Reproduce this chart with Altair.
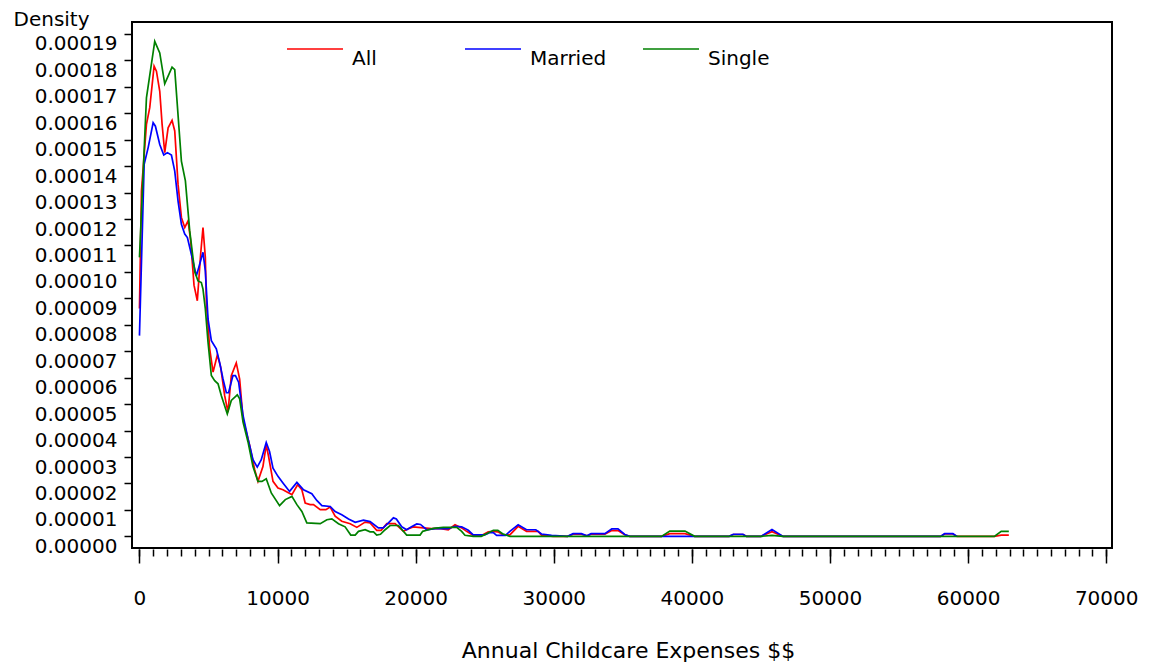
import altair as alt
import pandas as pd

series_names = ["All", "Married", "Single"]
series_colors = ["#ff0000", "#0000ff", "#008000"]

# Annual childcare expenses ($) and estimated density (in units of 1e-5)
x_all = [0, 145, 506, 745, 1060, 1230, 1470, 1640, 1830, 2075, 2360, 2555, 2795, 3037, 3280, 3520,
         3710, 3950, 4190, 4430, 4600, 4770, 4845, 5085, 5330, 5640, 5880, 6170, 6410, 6650, 7010,
         7255, 7500, 7980, 8340, 8580, 8940, 9180, 9350, 9670, 10030, 10390, 10750, 11040, 11450,
         11760, 12000, 12360, 12600, 13090, 13500, 13810, 14170, 14650, 15260, 15740, 16340, 16700,
         17180, 17500, 17910, 18510, 19110, 19470, 19830, 20560, 21160, 21700, 22360, 22850, 23330,
         23690, 24170, 24800, 25260, 25620, 25950, 26340, 26820, 27420, 28030, 28870, 29110, 29950,
         31000, 31400, 32000, 32400, 32700, 33700, 34200, 34650, 35140, 35500, 37800, 38400, 39500,
         40200, 42700, 43000, 43700, 43950, 45000, 45800, 46600, 58000, 58300, 58900, 59200, 61900,
         62400, 62950]
y_all = [8.62, 13.06, 15.58, 16.21, 17.78, 17.59, 16.83, 15.58, 14.51, 15.45, 15.73, 15.33, 13.31,
         12.06, 11.68, 11.93, 11.17, 9.5, 8.91, 10.67, 11.68, 10.55, 8.85, 7.09, 6.21, 6.86, 6.4, 5.32,
         4.7, 6.08, 6.56, 5.95, 4.44, 3.44, 2.53, 2.08, 2.64, 3.46, 3.02, 2.08, 1.83, 1.76, 1.66, 1.58,
         1.95, 1.76, 1.26, 1.2, 1.2, 1.01, 1.01, 1.11, 0.76, 0.57, 0.48, 0.34, 0.54, 0.51, 0.23, 0.23,
         0.48, 0.48, 0.19, 0.29, 0.36, 0.32, 0.29, 0.3, 0.25, 0.44, 0.32, 0.19, 0.04, 0.04, 0.17, 0.19,
         0.17, 0.06, 0.06, 0.38, 0.19, 0.19, 0.04, 0, 0, 0.08, 0.08, 0.02, 0.08, 0.08, 0.22, 0.22,
         0.06, 0, 0, 0.1, 0.1, 0, 0, 0.07, 0.07, 0, 0, 0.18, 0, 0, 0.09, 0.09, 0, 0, 0.05, 0.05]

x_married = [0, 340, 630, 990, 1155, 1470, 1760, 2025, 2315, 2555, 2795, 3037, 3280, 3470, 3760,
             4120, 4360, 4600, 4770, 4965, 5205, 5565, 5805, 6050, 6290, 6450, 6770, 6950, 7180,
             7500, 7860, 8220, 8530, 8820, 9180, 9420, 9670, 10030, 10390, 10870, 11400, 11880,
             12480, 12840, 13210, 13810, 14170, 14650, 15140, 15620, 16220, 16700, 17300, 17650,
             18030, 18390, 18600, 18990, 19350, 19700, 20080, 20350, 20800, 21520, 22360, 22850,
             23330, 23810, 24170, 25000, 25380, 25620, 25860, 26500, 26820, 27420, 28030, 28700,
             29110, 29840, 31000, 31400, 32000, 32400, 32700, 33700, 34200, 34650, 35140, 35500,
             42700, 43000, 43700, 43950, 45000, 45800, 46600, 58000, 58300, 58900, 59200]
y_married = [7.59, 14.07, 14.7, 15.64, 15.51, 14.82, 14.42, 14.51, 14.42, 13.81, 12.68, 11.8, 11.43,
             11.3, 10.67, 9.85, 10.29, 10.74, 10.04, 8.22, 7.4, 7.09, 6.58, 5.95, 5.43, 5.43, 6.08,
             6.08, 5.83, 4.57, 3.69, 2.9, 2.62, 2.9, 3.55, 3.21, 2.58, 2.27, 2.02, 1.7, 2.04, 1.76,
             1.61, 1.36, 1.16, 1.13, 0.94, 0.82, 0.66, 0.53, 0.61, 0.56, 0.32, 0.32, 0.51, 0.7, 0.66,
             0.36, 0.25, 0.36, 0.47, 0.45, 0.25, 0.3, 0.29, 0.38, 0.36, 0.23, 0.06, 0.06, 0.15, 0.14,
             0.04, 0.04, 0.19, 0.44, 0.25, 0.25, 0.09, 0.04, 0, 0.1, 0.1, 0.02, 0.1, 0.1, 0.28, 0.28,
             0.07, 0, 0, 0.08, 0.08, 0, 0, 0.26, 0, 0, 0.1, 0.1, 0]

x_single = [0, 506, 1107, 1470, 1830, 2360, 2555, 3037, 3326, 3640, 4000, 4240, 4480, 4600, 4770,
            4965, 5205, 5445, 5690, 5930, 6360, 6650, 7085, 7255, 7500, 7860, 8220, 8580, 8870, 9180,
            9545, 10145, 10560, 11040, 11400, 11760, 12120, 13090, 13570, 13930, 14410, 14890, 15300,
            15620, 15860, 16340, 16700, 16950, 17180, 17450, 17790, 18150, 18750, 19350, 20320, 20510,
            20800, 21280, 22000, 22970, 23330, 23570, 24170, 24750, 25140, 25620, 25950, 26290, 26820,
            37800, 38400, 39500, 40200, 45000, 45800, 46600, 61900, 62400, 62950]
y_single = [10.55, 16.58, 18.72, 18.28, 17.11, 17.74, 17.65, 14.19, 13.44, 11.55, 10.0, 9.66, 9.6,
            9.35, 8.6, 7.34, 6.08, 5.89, 5.77, 5.32, 4.63, 5.14, 5.35, 5.2, 4.32, 3.57, 2.64, 2.08,
            2.08, 2.18, 1.64, 1.16, 1.39, 1.51, 1.2, 0.94, 0.51, 0.48, 0.63, 0.66, 0.48, 0.36, 0.05,
            0.05, 0.19, 0.25, 0.17, 0.17, 0.05, 0.08, 0.25, 0.41, 0.41, 0.05, 0.05, 0.19, 0.23, 0.3,
            0.34, 0.34, 0.19, 0.04, 0, 0, 0.1, 0.23, 0.23, 0.1, 0, 0, 0.2, 0.2, 0, 0, 0.04, 0, 0,
            0.19, 0.19]

x_major_ticks = [0, 10000, 20000, 30000, 40000, 50000, 60000, 70000]
x_minor_ticks = list(range(0, 70001, 1000))
y_ticks = [0.00000, 0.00001, 0.00002, 0.00003, 0.00004, 0.00005, 0.00006, 0.00007, 0.00008,
           0.00009, 0.00010, 0.00011, 0.00012, 0.00013, 0.00014, 0.00015, 0.00016, 0.00017,
           0.00018, 0.00019]

rows = []
for name, xs, ys in [("All", x_all, y_all), ("Married", x_married, y_married),
                     ("Single", x_single, y_single)]:
    assert len(xs) == len(ys), name
    for xv, yv in zip(xs, ys):
        rows.append({"series": name, "expense": xv, "density": yv * 1e-5})
df = pd.DataFrame(rows)

FONT = "DejaVu Sans"

x_scale = alt.Scale(domain=[-540, 70420], nice=False, zero=False)
y_scale = alt.Scale(domain=[-0.0000044, 0.0001945], nice=False, zero=False)

lines = alt.Chart(df).mark_line(strokeWidth=1.7, clip=True).encode(
    x=alt.X("expense:Q", scale=x_scale,
            axis=alt.Axis(orient="bottom", values=x_major_ticks, format="d", tickSize=14, offset=1,
                          tickWidth=1.5, tickColor="black", domain=False, grid=False,
                          labelFont=FONT, labelFontSize=20, labelColor="black", labelPadding=25,
                          labelFlush=False, labelOverlap=False,
                          title="Annual Childcare Expenses $$", titleFont=FONT, titleFontSize=22,
                          titleFontWeight="normal", titleColor="black", titleX=496, titleY=108,
                          titleAlign="center", titleBaseline="alphabetic")),
    y=alt.Y("density:Q", scale=y_scale,
            axis=alt.Axis(orient="left", values=y_ticks, format=".5f", tickSize=8, tickWidth=1.5,
                          tickColor="black", domain=False, grid=False,
                          labelFont=FONT, labelFontSize=20, labelColor="black", labelPadding=7,
                          labelBaseline="top", labelOverlap=False, labelFlush=False,
                          title="Density", titleFont=FONT, titleFontSize=20,
                          titleFontWeight="normal", titleColor="black", titleAngle=0,
                          titleAlign="left", titleBaseline="alphabetic", titleX=-119, titleY=3)),
    color=alt.Color("series:N", scale=alt.Scale(domain=series_names, range=series_colors),
                    legend=alt.Legend(orient="none", legendX=154, legendY=-2,
                                      direction="horizontal", columns=3, gridAlign="all",
                                      symbolType="stroke", symbolSize=3136,
                                      symbolStrokeWidth=1.7, labelFont=FONT, labelFontSize=20,
                                      labelColor="black", labelOffset=8, columnPadding=32,
                                      labelBaseline="top", padding=0, title=None)),
)

minor = alt.Chart(df).mark_point(opacity=0, size=1).encode(
    x=alt.X("expense:Q", scale=x_scale,
            axis=alt.Axis(orient="bottom", values=x_minor_ticks, tickSize=7, offset=1,
                          tickWidth=1.5, tickColor="black", labels=False, domain=False,
                          grid=False, title=None)),
)

chart = alt.layer(lines, minor).resolve_axis(x="independent").properties(
    width=980, height=526,
    padding={"left": 124, "top": 14, "right": 35, "bottom": 116},
    autosize=alt.AutoSizeParams(type="none"),
    background="white",
).configure_view(stroke="black", strokeWidth=2, fill="white")

chart.save("out.html", embed_options={"renderer": "svg", "actions": False})
